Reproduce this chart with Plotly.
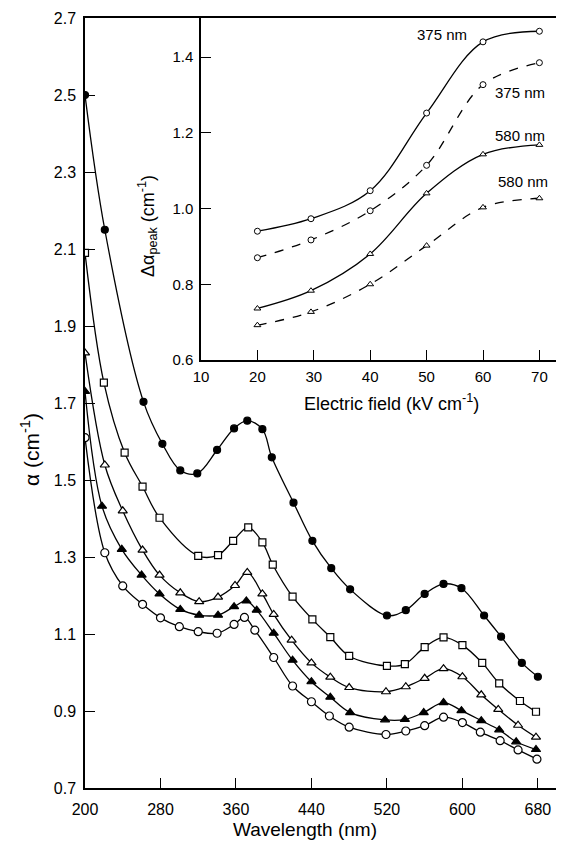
import plotly.graph_objects as go

# ---------------- main chart data ----------------
wl_fc = [200, 221, 262, 282, 301, 319, 340, 358, 372, 388, 398, 421, 441, 461, 481,
         520, 540, 560, 580, 599, 623, 641, 663, 680]
a_fc = [2.50, 2.15, 1.703, 1.594, 1.525, 1.517, 1.578, 1.634, 1.654, 1.632, 1.559, 1.441,
        1.342, 1.271, 1.216, 1.148, 1.162, 1.204, 1.23, 1.219, 1.148, 1.093, 1.025, 0.989]

wl_sq = [200, 220, 242, 261, 279, 320, 341, 357, 373, 388, 399, 420, 441, 460, 480,
         520, 539, 560, 580, 600, 621, 639, 661, 678]
a_sq = [2.09, 1.753, 1.571, 1.483, 1.402, 1.303, 1.305, 1.342, 1.377, 1.338, 1.28, 1.197,
        1.138, 1.092, 1.043, 1.017, 1.022, 1.066, 1.091, 1.071, 1.025, 0.972, 0.926, 0.898]

wl_ot = [200, 221, 240, 261, 279, 301, 321, 341, 359, 372, 388, 400, 419, 440, 460, 480,
         519, 540, 560, 580, 600, 620, 638, 659, 678]
a_ot = [1.83, 1.539, 1.42, 1.318, 1.253, 1.207, 1.184, 1.196, 1.226, 1.26, 1.204, 1.151,
        1.084, 1.025, 0.988, 0.961, 0.95, 0.963, 0.985, 1.01, 0.989, 0.942, 0.904, 0.863, 0.832]

wl_ft = [200, 218, 239, 260, 279, 301, 321, 341, 358, 371, 382, 400, 420, 440, 460, 481,
         518, 539, 559, 580, 599, 620, 639, 657, 678]
a_ft = [1.73, 1.432, 1.32, 1.253, 1.204, 1.164, 1.149, 1.149, 1.171, 1.186, 1.162, 1.102,
        1.032, 0.976, 0.936, 0.896, 0.877, 0.878, 0.896, 0.922, 0.901, 0.875, 0.851, 0.82, 0.80]

wl_oc = [200, 221, 240, 261, 280, 300, 320, 340, 358, 369, 380, 400, 420, 440, 459, 480,
         519, 540, 560, 580, 600, 619, 640, 659, 679]
a_oc = [1.61, 1.311, 1.225, 1.177, 1.142, 1.119, 1.106, 1.102, 1.125, 1.143, 1.11, 1.039,
        0.965, 0.924, 0.887, 0.858, 0.839, 0.848, 0.862, 0.884, 0.87, 0.845, 0.823, 0.799, 0.775]

x_ticks = [200, 280, 360, 440, 520, 600, 680]
y_ticks = [0.7, 0.9, 1.1, 1.3, 1.5, 1.7, 1.9, 2.1, 2.3, 2.5, 2.7]

# ---------------- inset data ----------------
field = [20, 29.5, 40, 50, 60, 70]
d375_solid = [0.94, 0.973, 1.047, 1.252, 1.44, 1.468]
d375_dash = [0.87, 0.917, 0.994, 1.114, 1.327, 1.385]
d580_solid = [0.736, 0.783, 0.88, 1.04, 1.143, 1.168]
d580_dash = [0.692, 0.727, 0.80, 0.902, 1.003, 1.027]
inset_x_ticks = [10, 20, 30, 40, 50, 60, 70]
inset_y_ticks = [0.6, 0.8, 1.0, 1.2, 1.4]

FONT = "Liberation Sans"
BLACK = "black"

fig = go.Figure()

def main_series(x, y, symbol, fill, size):
    fig.add_trace(go.Scatter(
        x=x, y=y, mode="lines+markers",
        line=dict(color=BLACK, width=1.3, shape="spline", smoothing=1.0),
        marker=dict(symbol=symbol, size=size, color=fill,
                    line=dict(color=BLACK, width=1.2)),
        showlegend=False, xaxis="x", yaxis="y"))

main_series(wl_fc, a_fc, "circle", BLACK, 7)
main_series(wl_sq, a_sq, "square", "white", 7)
main_series(wl_ot, a_ot, "triangle-up", "white", 8)
main_series(wl_ft, a_ft, "triangle-up", BLACK, 8)
main_series(wl_oc, a_oc, "circle", "white", 8)

def inset_series(y, symbol, dash):
    fig.add_trace(go.Scatter(
        x=field, y=y, mode="lines+markers",
        line=dict(color=BLACK, width=1.3, shape="spline", smoothing=1.0, dash=dash),
        marker=dict(symbol=symbol, size=6, color="white",
                    line=dict(color=BLACK, width=1)),
        showlegend=False, xaxis="x2", yaxis="y2"))

inset_series(d375_solid, "circle", "solid")
inset_series(d375_dash, "circle", "dash")
inset_series(d580_solid, "triangle-up", "solid")
inset_series(d580_dash, "triangle-up", "dash")

# the page body adds an 8px offset; figure is sized to fit the window
OFF = 8
FIG_W, FIG_H = 564 - OFF, 845 - OFF
# plot area in window pixels
L, R, T, B = 85, 563, 18, 788
W_, H_ = R - L, B - T
def px(xp):
    return (xp - L) / W_
def py(yp):
    return (B - yp) / H_

axis_common = dict(showgrid=False, zeroline=False, showline=True, linecolor=BLACK,
                   linewidth=1.5, ticks="inside", ticklen=10, tickwidth=1.2,
                   tickcolor=BLACK)

fig.update_layout(
    width=FIG_W, height=FIG_H,
    margin=dict(l=L - OFF, r=FIG_W - (R - OFF), t=T - OFF, b=FIG_H - (B - OFF),
                autoexpand=False),
    paper_bgcolor="white", plot_bgcolor="white",
    font=dict(family=FONT, color=BLACK, size=16),
    xaxis=dict(range=[200, 200 + (R - L) / 0.9435], tickvals=x_ticks, mirror=True,
               tickfont=dict(size=16), ticklabelstandoff=6, **axis_common),
    yaxis=dict(range=[0.7, 2.7], tickvals=y_ticks, tickformat=".1f",
               tickfont=dict(size=16), ticklabelstandoff=4, **axis_common),
    xaxis2=dict(domain=[px(201), 1.0], anchor="y2", range=[10, 10 + (R - 201) / 5.64],
                tickvals=inset_x_ticks, tickfont=dict(size=15), ticklabelstandoff=2,
                **axis_common),
    yaxis2=dict(domain=[py(360), 1.0], anchor="x2", range=[0.6, 0.6 + (360 - T) / 378.75],
                tickvals=inset_y_ticks, tickformat=".1f", tickfont=dict(size=15),
                ticklabelstandoff=3, **axis_common),
)

ann = []
def label(text, xp, yp, size, angle=0):
    ann.append(dict(text=text, x=px(xp), y=py(yp), xref="paper", yref="paper",
                    showarrow=False, textangle=angle, xanchor="center", yanchor="middle",
                    font=dict(family=FONT, size=size, color=BLACK)))

label("α (cm<sup>-1</sup>)", 30, 450, 21, -90)
label("Wavelength (nm)", 305, 829, 19)
label("Electric field (kV cm<sup>-1</sup>)", 391, 402, 18)
label("Δα<sub>peak</sub> (cm<sup>-1</sup>)", 148, 226, 18, -90)
label("375 nm", 442, 35, 15)
label("375 nm", 520, 93, 15)
label("580 nm", 520, 135, 15)
label("580 nm", 523, 182, 15)

fig.update_layout(annotations=ann)
fig.write_html("out.html")
